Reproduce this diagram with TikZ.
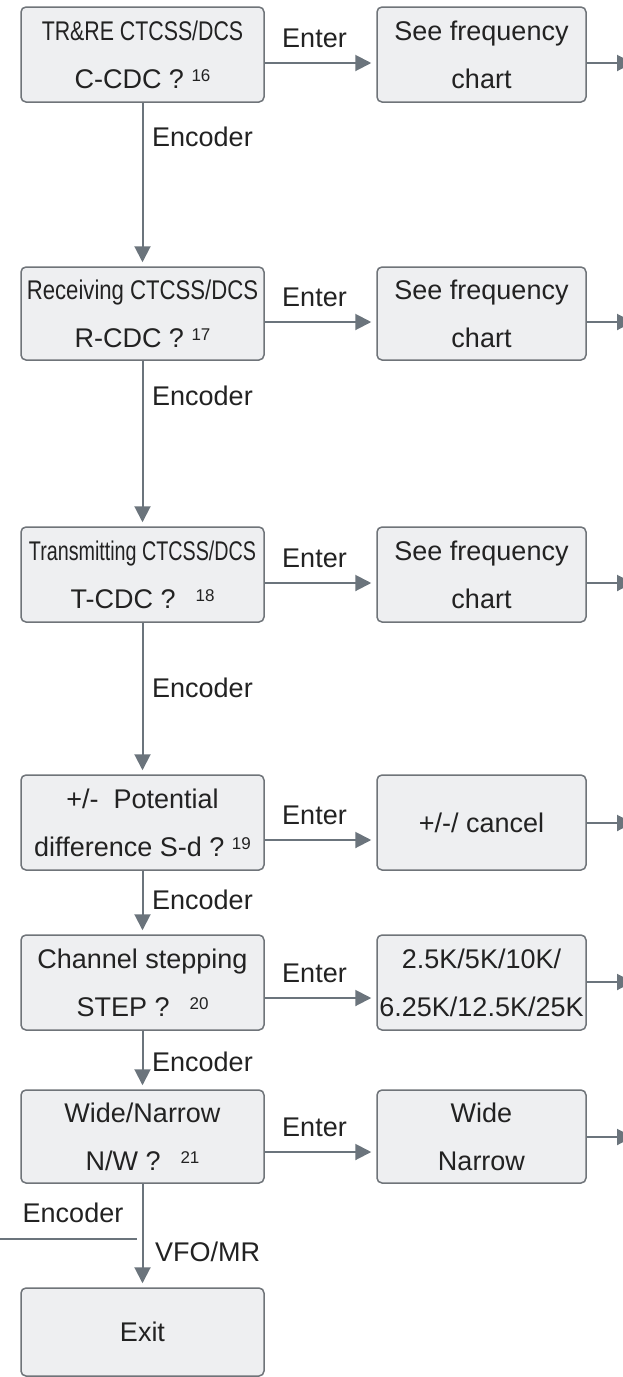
\documentclass[tikz,border=0pt]{standalone}
\usepackage{fontspec}
\setmainfont{Liberation Sans}
\usepackage{graphicx}
\usetikzlibrary{arrows.meta,calc}
\definecolor{boxfill}{HTML}{EEEFF1}
\definecolor{boxdraw}{HTML}{6F7479}
\definecolor{linecol}{HTML}{6B747C}
\definecolor{txt}{HTML}{222222}
\newcommand\supnum[1]{\raisebox{7pt}{\fontsize{17}{17}\selectfont #1}}
\newcommand\cond[2]{\scalebox{#1}[1]{#2}}
\begin{document}
\begin{tikzpicture}[x=1pt,y=-1pt,
  box/.style={draw=boxdraw, line width=1.5pt, fill=boxfill, rounded corners=5pt, align=center, inner sep=0pt, text=txt, font=\fontsize{27}{48}\selectfont},
  lbox/.style={box, minimum width=243pt, minimum height=95pt},
  rbox/.style={box, minimum width=209pt, minimum height=95pt},
  conn/.style={draw=linecol, line width=2pt, -{Triangle[length=16pt,width=16pt]}},
  plainline/.style={draw=linecol, line width=2pt},
  lbl/.style={text=txt, font=\fontsize{27}{32}\selectfont, inner sep=0pt}
]
\useasboundingbox (0,0) rectangle (623,1377);
\clip (0,0) rectangle (623,1377);
\fill[white] (0,0) rectangle (623,1377);

% left column
\node[lbox] (b1) at (142.5,54.5) {\cond{0.79}{TR\&RE CTCSS/DCS}\\C-CDC ?\ \supnum{16}};
\node[lbox, minimum height=93pt] (b2) at (142.5,313.5) {\cond{0.82}{Receiving CTCSS/DCS}\\R-CDC ?\ \supnum{17}};
\node[lbox] (b3) at (142.5,574.5) {\cond{0.73}{Transmitting CTCSS/DCS}\\T-CDC ?\hspace{20pt}\supnum{18}};
\node[lbox] (b4) at (142.5,822.5) {+/-\ \ Potential\\difference S-d ?\ \supnum{19}};
\node[lbox] (b5) at (142.5,982.5) {Channel stepping\\STEP ?\hspace{20pt}\supnum{20}};
\node[lbox, minimum height=93pt] (b6) at (142.5,1136.5) {Wide/Narrow\\N/W ?\hspace{20pt}\supnum{21}};
\node[lbox, minimum height=88pt] (ex) at (142.5,1332) {Exit};

% right column
\node[rbox] (r1) at (481.5,54.5) {See frequency\\chart};
\node[rbox, minimum height=93pt] (r2) at (481.5,313.5) {See frequency\\chart};
\node[rbox] (r3) at (481.5,574.5) {See frequency\\chart};
\node[rbox] (r4) at (481.5,822.5) {+/-/ cancel};
\node[rbox] (r5) at (481.5,982.5) {2.5K/5K/10K/\\6.25K/12.5K/25K};
\node[rbox, minimum height=93pt] (r6) at (481.5,1136.5) {Wide\\Narrow};

% Enter arrows
\draw[conn, shorten >=5pt] ([yshift=-8.5pt]b1.east) -- ([yshift=-8.5pt]r1.west) node[lbl, midway, above=14pt, xshift=-6pt] (en1) {Enter};
\draw[conn, shorten >=5pt] ([yshift=-8.5pt]b2.east) -- ([yshift=-8.5pt]r2.west) node[lbl, midway, above=14pt, xshift=-6pt] (en2) {Enter};
\draw[conn, shorten >=5pt] ([yshift=-8.5pt]b3.east) -- ([yshift=-8.5pt]r3.west) node[lbl, midway, above=14pt, xshift=-6pt] (en3) {Enter};
\draw[conn, shorten >=5pt] ([yshift=-17.5pt]b4.east) -- ([yshift=-17.5pt]r4.west) node[lbl, midway, above=14pt, xshift=-6pt] (en4) {Enter};
\draw[conn, shorten >=5pt] ([yshift=-15.5pt]b5.east) -- ([yshift=-15.5pt]r5.west) node[lbl, midway, above=14pt, xshift=-6pt] (en5) {Enter};
\draw[conn, shorten >=5pt] ([yshift=-15.5pt]b6.east) -- ([yshift=-15.5pt]r6.west) node[lbl, midway, above=14pt, xshift=-6pt] (en6) {Enter};

% outgoing arrows (cut by the page edge)
\coordinate (o1) at (633,63);
\coordinate (o2) at (633,322);
\coordinate (o3) at (633,583);
\coordinate (o4) at (633,823);
\coordinate (o5) at (633,982);
\coordinate (o6) at (633,1137);
\draw[conn] (r1.east |- o1) -- (o1);
\draw[conn] (r2.east |- o2) -- (o2);
\draw[conn] (r3.east |- o3) -- (o3);
\draw[conn] (r4.east |- o4) -- (o4);
\draw[conn] (r5.east |- o5) -- (o5);
\draw[conn] (r6.east |- o6) -- (o6);

% Encoder arrows
\draw[conn, shorten >=4pt] (b1.south) -- (b2.north);
\draw[conn, shorten >=4pt] (b2.south) -- (b3.north);
\draw[conn, shorten >=4pt] (b3.south) -- (b4.north);
\draw[conn, shorten >=4pt] (b4.south) -- (b5.north);
\draw[conn, shorten >=4pt] (b5.south) -- (b6.north);
\draw[conn, shorten >=4pt] (b6.south) -- (ex.north);
\node[lbl, anchor=west] (enc1) at (152,137) {Encoder};
\node[lbl, anchor=west] (enc2) at (152,396) {Encoder};
\node[lbl, anchor=west] (enc3) at (152,688) {Encoder};
\node[lbl, anchor=west] (enc4) at (152,900) {Encoder};
\node[lbl, anchor=west] (enc5) at (152,1062) {Encoder};

% bottom
\node[lbl] (enc6) at (73,1213) {Encoder};
\coordinate (h0) at (0,1239);
\coordinate (h1) at (137,1239);
\draw[plainline] (h0) -- (h1);
\node[lbl, anchor=west] (vfo) at (155,1252) {VFO/MR};
\end{tikzpicture}
\end{document}
